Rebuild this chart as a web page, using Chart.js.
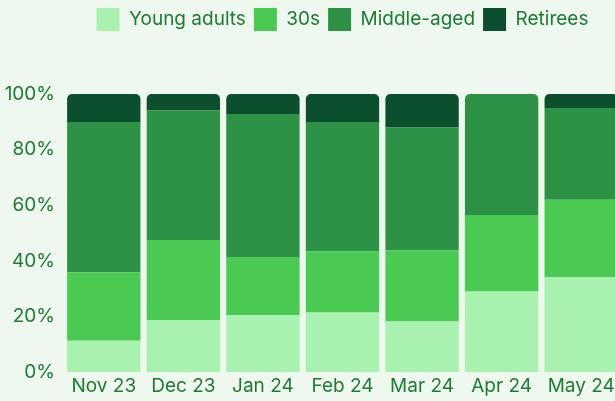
<!DOCTYPE html>
<html>
<head>
<meta charset="utf-8">
<script src="https://cdn.jsdelivr.net/npm/chart.js@4"></script>
<style>
    html, body { margin: 0; padding: 0; overflow: hidden; background: #eef8ee; }
    #wrap { position: relative; width: 621px; height: 401px; }
</style>
</head>
<body>
<div id="wrap"><canvas id="ages"></canvas></div>
<script>
var months = ['Nov 23', 'Dec 23', 'Jan 24', 'Feb 24', 'Mar 24', 'Apr 24', 'May 24'];
var youngAdults = [11.3, 18.8, 20.6, 21.5, 18.2, 29, 34.1];
var thirties = [24.6, 28.7, 20.8, 22, 25.6, 27.5, 27.9];
var middleAged = [54, 46.7, 51.4, 46.4, 44.2, 43.5, 33];
var retirees = [10.1, 5.8, 7.2, 10.1, 12, 0, 5];
var yTicks = [0, 20, 40, 60, 80, 100];

var textColor = '#1f7a34';

// push the plot down a bit under the legend
var legendSpacer = {
    id: 'legendSpacer',
    beforeInit: function (chart) {
        var fit = chart.legend.fit;
        chart.legend.fit = function () {
            fit.bind(this)();
            this.height += 53;
        };
    }
};

var ctx = document.getElementById('ages').getContext('2d');
var chart = new Chart(ctx, {
    type: 'bar',
    data: {
        labels: months,
        datasets: [
            { label: 'Young adults', data: youngAdults, backgroundColor: '#a8f1ae' },
            { label: '30s', data: thirties, backgroundColor: '#4ac953' },
            { label: 'Middle-aged', data: middleAged, backgroundColor: '#2e9246' },
            { label: 'Retirees', data: retirees, backgroundColor: '#0b4f2e' }
        ]
    },
    options: {
        responsive: true,
        maintainAspectRatio: false,
        animation: false,
        datasets: {
            bar: {
                borderRadius: 5,
                barPercentage: 0.96,
                categoryPercentage: 0.96
            }
        },
        plugins: {
            legend: {
                position: 'top',
                fullSize: false,
                labels: {
                    boxWidth: 23,
                    boxHeight: 23,
                    padding: 8,
                    color: textColor,
                    font: { family: 'Inter', size: 19 }
                }
            },
            tooltip: { enabled: false }
        },
        scales: {
            x: {
                stacked: true,
                grid: { display: false, drawTicks: false },
                border: { display: false },
                ticks: {
                    color: textColor,
                    padding: 3,
                    font: { family: 'Inter', size: 19 }
                }
            },
            y: {
                stacked: true,
                min: 0,
                max: 100,
                afterFit: function (axis) { axis.width = 64; },
                afterBuildTicks: function (axis) {
                    axis.ticks = yTicks.map(function (v) { return { value: v }; });
                },
                grid: { display: false, drawTicks: false },
                border: { display: false },
                ticks: {
                    color: textColor,
                    padding: 9,
                    font: { family: 'Inter', size: 19 },
                    callback: function (v) { return v + '%'; }
                }
            }
        }
    },
    plugins: [legendSpacer]
});
</script>
</body>
</html>
